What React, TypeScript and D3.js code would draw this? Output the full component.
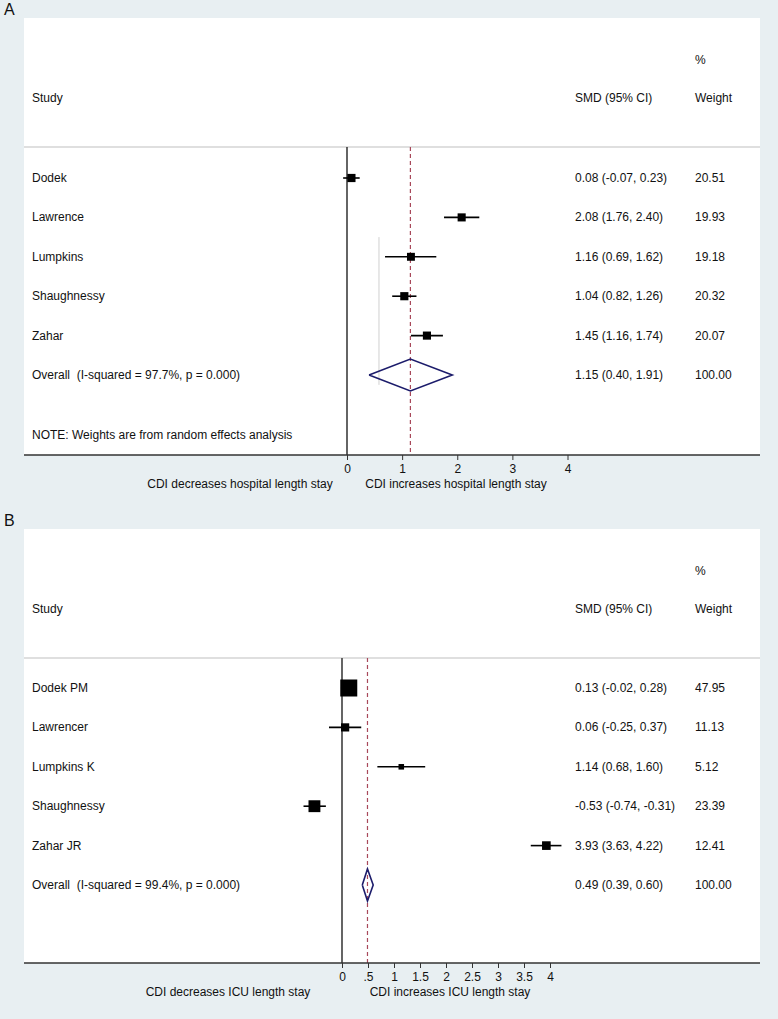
import React, { useEffect, useRef } from "react";
import * as d3 from "d3";

// panel A: hospital length of stay
const studiesA = ["Dodek", "Lawrence", "Lumpkins", "Shaughnessy", "Zahar"];
const smdA = [0.08, 2.08, 1.16, 1.04, 1.45];
const lowA = [-0.07, 1.76, 0.69, 0.82, 1.16];
const highA = [0.23, 2.4, 1.62, 1.26, 1.74];
const weightA = [20.51, 19.93, 19.18, 20.32, 20.07];
const overallA = [1.15, 0.4, 1.91];
const overallLabelA = "Overall  (I-squared = 97.7%, p = 0.000)";
const ticksA = [0, 1, 2, 3, 4];
const tickLabelsA = ["0", "1", "2", "3", "4"];

// panel B: ICU length of stay
const studiesB = ["Dodek PM", "Lawrencer", "Lumpkins K", "Shaughnessy", "Zahar JR"];
const smdB = [0.13, 0.06, 1.14, -0.53, 3.93];
const lowB = [-0.02, -0.25, 0.68, -0.74, 3.63];
const highB = [0.28, 0.37, 1.6, -0.31, 4.22];
const weightB = [47.95, 11.13, 5.12, 23.39, 12.41];
const overallB = [0.49, 0.39, 0.6];
const overallLabelB = "Overall  (I-squared = 99.4%, p = 0.000)";
const ticksB = [0, 0.5, 1, 1.5, 2, 2.5, 3, 3.5, 4];
const tickLabelsB = ["0", ".5", "1", "1.5", "2", "2.5", "3", "3.5", "4"];

const W = 778;
const H = 1019;
const BG = "#e8eff2";
const FONT = "'Liberation Sans', Arial, Helvetica, sans-serif";

// plain hyphen for negatives, like the stata output
const fmt = (v: number) => v.toFixed(2);

function drawPanel(svg: any, o: any) {
  const g = svg.append("g");
  const left = 24, right = 760;

  // white plot box
  g.append("rect")
    .attr("x", left).attr("y", o.top)
    .attr("width", right - left).attr("height", o.axisY - o.top)
    .attr("fill", "white");

  g.append("text")
    .attr("x", 4).attr("y", o.top - 3)
    .style("font-size", "16px")
    .text(o.letter);

  const x = d3.scaleLinear().domain([0, 4]).range([o.x0, o.x4]);
  const y = d3.scaleLinear().domain([0, 1]).range([o.row0, o.row0 + 39.4]);
  const size = d3.scaleSqrt().domain([0, d3.max(o.weight) as number]).range([0, o.maxSide]);

  // header
  g.append("text").attr("x", 695).attr("y", o.top + 46).text("%");
  g.append("text").attr("x", 32).attr("y", o.top + 84).text("Study");
  g.append("text").attr("x", 575).attr("y", o.top + 84).text("SMD (95% CI)");
  g.append("text").attr("x", 695).attr("y", o.top + 84).text("Weight");

  g.append("line")
    .attr("x1", left).attr("x2", right)
    .attr("y1", o.sepY).attr("y2", o.sepY)
    .attr("stroke", "#d4d4d4").attr("stroke-width", 1.5);

  if (o.ghost) {
    g.append("line")
      .attr("x1", x(o.ghost)).attr("x2", x(o.ghost))
      .attr("y1", y(1.5)).attr("y2", y(5.25))
      .attr("stroke", "#d0d0d0").attr("stroke-width", 1);
  }

  // no-effect line
  g.append("line")
    .attr("x1", x(0)).attr("x2", x(0))
    .attr("y1", o.sepY).attr("y2", o.axisY)
    .attr("stroke", o.zeroColor).attr("stroke-width", o.zeroWidth);

  // overall effect line
  g.append("line")
    .attr("x1", x(o.overall[0])).attr("x2", x(o.overall[0]))
    .attr("y1", o.sepY).attr("y2", o.axisY)
    .attr("stroke", "#a8485a").attr("stroke-width", 1.2)
    .attr("stroke-dasharray", "4,3");

  // studies
  o.studies.forEach((s: string, i: number) => {
    const yy = y(i);
    g.append("text").attr("x", 32).attr("y", yy + 4).text(s);
    g.append("line")
      .attr("x1", x(o.low[i])).attr("x2", x(o.high[i]))
      .attr("y1", yy).attr("y2", yy)
      .attr("stroke", "black").attr("stroke-width", 1.6);
    const sd = size(o.weight[i]);
    g.append("rect")
      .attr("x", x(o.smd[i]) - sd / 2).attr("y", yy - sd / 2)
      .attr("width", sd).attr("height", sd)
      .attr("fill", "black");
    g.append("text").attr("x", 575).attr("y", yy + 4)
      .text(`${fmt(o.smd[i])} (${fmt(o.low[i])}, ${fmt(o.high[i])})`);
    g.append("text").attr("x", 695).attr("y", yy + 4).text(fmt(o.weight[i]));
  });

  // overall diamond
  const yo = y(o.studies.length);
  const [m, lo, hi] = o.overall;
  g.append("path")
    .attr("d", d3.line()([[x(lo), yo], [x(m), yo - 16], [x(hi), yo], [x(m), yo + 16], [x(lo), yo]]))
    .attr("fill", "none").attr("stroke", "#1c1c6b").attr("stroke-width", 1.6);
  g.append("text").attr("x", 32).attr("y", yo + 4)
    .style("white-space", "pre").text(o.overallLabel);
  g.append("text").attr("x", 575).attr("y", yo + 4)
    .text(`${fmt(m)} (${fmt(lo)}, ${fmt(hi)})`);
  g.append("text").attr("x", 695).attr("y", yo + 4).text(fmt(100));

  if (o.note) {
    g.append("text").attr("x", 32).attr("y", o.axisY - 16).text(o.note);
  }

  // axis
  g.append("line")
    .attr("x1", left).attr("x2", right)
    .attr("y1", o.axisY).attr("y2", o.axisY)
    .attr("stroke", "#333").attr("stroke-width", 1.5);

  const axis = d3.axisBottom(x)
    .tickValues(o.ticks)
    .tickFormat((d: any, i: number) => o.tickLabels[i])
    .tickSize(5)
    .tickPadding(4);
  const ag = g.append("g")
    .attr("transform", `translate(0, ${o.axisY})`)
    .call(axis);
  ag.select(".domain").remove();
  ag.selectAll("line").attr("stroke", "#333");
  ag.selectAll("text")
    .style("font-family", FONT).style("font-size", "12px")
    .attr("fill", "#111");

  g.append("text").attr("x", o.leftTitleX).attr("y", o.axisY + 33)
    .attr("text-anchor", "middle").text(o.leftTitle);
  g.append("text").attr("x", o.rightTitleX).attr("y", o.axisY + 33)
    .attr("text-anchor", "middle").text(o.rightTitle);
}

export default function App() {
  const svgRef = useRef<SVGSVGElement>(null);

  useEffect(() => {
    const svg = d3.select(svgRef.current);
    svg.selectAll("*").remove();

    svg.append("rect").attr("width", W).attr("height", H).attr("fill", BG);
    svg.style("font-family", FONT).style("font-size", "12px").attr("fill", "#111");

    drawPanel(svg, {
      letter: "A", top: 18, sepY: 147, axisY: 455, row0: 178,
      x0: 347, x4: 567.5, maxSide: 8.2, zeroColor: "#111", zeroWidth: 1.3,
      studies: studiesA, smd: smdA, low: lowA, high: highA, weight: weightA,
      overall: overallA, overallLabel: overallLabelA,
      ticks: ticksA, tickLabels: tickLabelsA, ghost: 0.58,
      note: "NOTE: Weights are from random effects analysis",
      leftTitle: "CDI decreases hospital length stay", leftTitleX: 240,
      rightTitle: "CDI increases hospital length stay", rightTitleX: 456,
    });

    drawPanel(svg, {
      letter: "B", top: 529, sepY: 658, axisY: 963, row0: 688,
      x0: 342, x4: 550, maxSide: 17, zeroColor: "#555", zeroWidth: 1.8,
      studies: studiesB, smd: smdB, low: lowB, high: highB, weight: weightB,
      overall: overallB, overallLabel: overallLabelB,
      ticks: ticksB, tickLabels: tickLabelsB, ghost: null, note: null,
      leftTitle: "CDI decreases ICU length stay", leftTitleX: 228,
      rightTitle: "CDI increases ICU length stay", rightTitleX: 450,
    });
  }, []);

  return (
    <div style={{ position: "absolute", left: 0, top: 0 }}>
      <svg ref={svgRef} width={W} height={H}></svg>
    </div>
  );
}
